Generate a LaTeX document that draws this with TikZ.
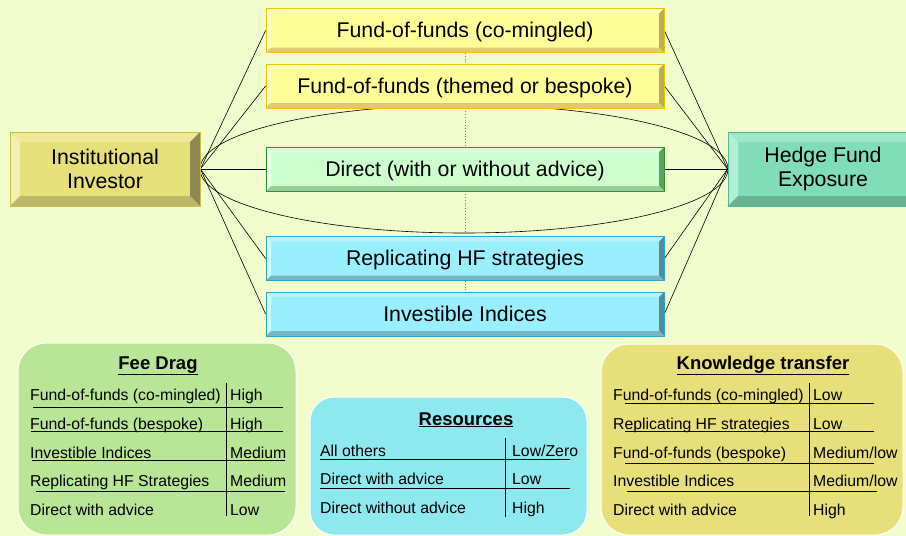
\documentclass[tikz,border=0pt]{standalone}
\usepackage{fontspec}
\setmainfont{Liberation Sans}
\usetikzlibrary{backgrounds}

\definecolor{bgcol}{HTML}{F2FDCE}
\definecolor{fofface}{HTML}{FFFF99}
\definecolor{foftop}{HTML}{FFFFB8}
\definecolor{fofleft}{HTML}{FFFFCC}
\definecolor{fofright}{HTML}{B5AE5E}
\definecolor{fofbot}{HTML}{D6CC7A}
\definecolor{fofline}{HTML}{F5C400}
\definecolor{invface}{HTML}{E6E07A}
\definecolor{invtop}{HTML}{EEE998}
\definecolor{invleft}{HTML}{F4F0B4}
\definecolor{invright}{HTML}{8C8850}
\definecolor{invbot}{HTML}{BEB76A}
\definecolor{invline}{HTML}{C9BE4A}
\definecolor{dirface}{HTML}{CCFFCC}
\definecolor{dirtop}{HTML}{DDFFDD}
\definecolor{dirleft}{HTML}{E8FFE8}
\definecolor{dirright}{HTML}{5E9E5E}
\definecolor{dirbot}{HTML}{9CCB9C}
\definecolor{dirline}{HTML}{2E962E}
\definecolor{repface}{HTML}{99EEFF}
\definecolor{reptop}{HTML}{B5F4FF}
\definecolor{repleft}{HTML}{CFF8FF}
\definecolor{repright}{HTML}{4F8E9C}
\definecolor{repbot}{HTML}{78B8C6}
\definecolor{repline}{HTML}{2CA6C4}
\definecolor{hfface}{HTML}{80DDB8}
\definecolor{hftop}{HTML}{9FE7C9}
\definecolor{hfleft}{HTML}{B5EED8}
\definecolor{hfright}{HTML}{5A9C83}
\definecolor{hfbot}{HTML}{68B394}
\definecolor{hfline}{HTML}{4FB891}
\definecolor{feecol}{HTML}{B8E596}
\definecolor{rescol}{HTML}{8EE9EE}
\definecolor{knowcol}{HTML}{E7E07A}

\tikzset{
  bevel depth/.store in=\bdepth, bevel depth=5pt,
  bevel/.style n args={5}{fill=#1, path picture={
      \path (path picture bounding box.north west) coordinate (o1)
            (path picture bounding box.north east) coordinate (o2)
            (path picture bounding box.south east) coordinate (o3)
            (path picture bounding box.south west) coordinate (o4);
      \path ([shift={(\bdepth,-\bdepth)}]o1) coordinate (i1)
            ([shift={(-\bdepth,-\bdepth)}]o2) coordinate (i2)
            ([shift={(-\bdepth,\bdepth)}]o3) coordinate (i3)
            ([shift={(\bdepth,\bdepth)}]o4) coordinate (i4);
      \fill[#2] (o1) -- (o2) -- (i2) -- (i1) -- cycle;
      \fill[#3] (o1) -- (i1) -- (i4) -- (o4) -- cycle;
      \fill[#4] (o2) -- (o3) -- (i3) -- (i2) -- cycle;
      \fill[#5] (o4) -- (i4) -- (i3) -- (o3) -- cycle;
    }},
  boxtext/.style={font=\fontsize{21.3}{24.5}\selectfont, text=black, inner sep=0pt, line width=0.8pt},
  flatbox/.style={boxtext, minimum width=398pt, minimum height=44pt, text height=18pt, text depth=4pt},
  bigbox/.style={boxtext, align=center, minimum width=190pt, minimum height=74pt, bevel depth=10pt},
  link/.style={draw=black, line width=0.6pt},
  tier/.style={draw=gray, dotted, line width=0.8pt},
  panel/.style={draw=white, line width=1pt, rounded corners=28pt},
  cell/.style={font=\fontsize{15.8}{18}\selectfont, anchor=base west, inner sep=0pt},
  head/.style={font=\fontsize{18.5}{21}\selectfont\bfseries, anchor=base, inner sep=0pt},
  rule/.style={line width=0.7pt}
}

\begin{document}
\begin{tikzpicture}[x=1pt, y=-1pt]
  \useasboundingbox (0,0) rectangle (906,536);

  % the routes
  \node[bigbox, bevel={invface}{invtop}{invleft}{invright}{invbot}, draw=invline] (inv) at (105,169) {Institutional\\Investor};
  \node[bigbox, bevel={hfface}{hftop}{hfleft}{hfright}{hfbot}, draw=hfline] (hfe) at (823,169) {Hedge Fund\\Exposure};
  \node[flatbox, bevel={fofface}{foftop}{fofleft}{fofright}{fofbot}, draw=fofline] (fofc) at (465,30.5) {Fund-of-funds (co-mingled)};
  \node[flatbox, bevel={fofface}{foftop}{fofleft}{fofright}{fofbot}, draw=fofline] (foft) at (465,86) {Fund-of-funds (themed or bespoke)};
  \node[flatbox, bevel={dirface}{dirtop}{dirleft}{dirright}{dirbot}, draw=dirline] (dir) at (465,169) {Direct (with or without advice)};
  \node[flatbox, bevel={repface}{reptop}{repleft}{repright}{repbot}, draw=repline] (rep) at (465,258.5) {Replicating HF strategies};
  \node[flatbox, bevel={repface}{reptop}{repleft}{repright}{repbot}, draw=repline] (idx) at (465,314) {Investible Indices};

  \begin{pgfonlayer}{background}
    \fill[bgcol] (0,0) rectangle (906,536);
    \foreach \b in {fofc, foft, dir, rep, idx} {
      \draw[link] (inv.east) -- (\b.west);
      \draw[link] (\b.east) -- (hfe.west);
    }
    \path (inv.east) -- (hfe.west) coordinate[midway] (mid);
    \draw[link] (mid) ellipse [x radius=264, y radius=64];
    \draw[tier] (fofc.south) -- (foft.north);
    \draw[tier] (foft.south) -- (dir.north);
    \draw[tier] (dir.south) -- (rep.north);
    \draw[tier] (rep.south) -- (idx.north);
  \end{pgfonlayer}

  % fee drag
  \draw[panel, fill=feecol] (18,343) rectangle (296,535);
  \node[head] (feehead) at (158,369) {\underline{Fee Drag}};
  \foreach \t/\v/\y in {Fund-of-funds (co-mingled)/High/400, Fund-of-funds (bespoke)/High/429,
      Investible Indices/Medium/458, Replicating HF Strategies/Medium/486, Direct with advice/Low/515} {
    \node[cell] at (30,\y) {\t};
    \node[cell] at (230,\y) {\v};
  }
  \foreach \y/\a/\b in {407/33/283, 431/31/283, 460/32/285, 491/36/285}
    \draw[rule] (\a,\y) -- (\b,\y);
  \draw[rule] (226,383) -- (226,516);

  % resources
  \draw[panel, fill=rescol, rounded corners=24pt] (310,397) rectangle (587,535);
  \node[head] (reshead) at (466,425) {\underline{Resources}};
  \foreach \t/\v/\y in {All others/{Low/Zero}/456, Direct with advice/Low/484, Direct without advice/High/513} {
    \node[cell] at (320,\y) {\t};
    \node[cell] at (512,\y) {\v};
  }
  \foreach \y in {459, 488}
    \draw[rule] (320,\y) -- (570,\y);
  \draw[rule] (505,438) -- (505,517);

  % knowledge transfer
  \draw[panel, fill=knowcol] (601,344) rectangle (903,535);
  \node[head] (knowhead) at (763,369) {\underline{Knowledge transfer}};
  \foreach \t/\v/\y in {Fund-of-funds (co-mingled)/Low/400, Replicating HF strategies/Low/429,
      Fund-of-funds (bespoke)/{Medium/low}/458, Investible Indices/{Medium/low}/486, Direct with advice/High/515} {
    \node[cell] at (613,\y) {\t};
    \node[cell] at (813,\y) {\v};
  }
  \foreach \y/\a/\b in {403/625/874, 431/625/874, 463/625/874, 491/627/877}
    \draw[rule] (\a,\y) -- (\b,\y);
  \draw[rule] (809,383) -- (809,516);
\end{tikzpicture}
\end{document}
